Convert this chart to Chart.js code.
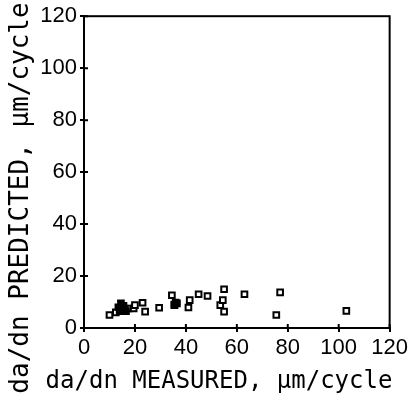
<!DOCTYPE html>
<html>
<head>
<meta charset="utf-8">
<script src="https://cdn.jsdelivr.net/npm/chart.js@4"></script>
<style>
  html, body { margin: 0; padding: 0; background: #fff; }
  #wrap { width: 411px; height: 407px; }
</style>
</head>
<body>
<div id="wrap"><canvas id="myChart" width="411" height="407"></canvas></div>
<script>
const ctx = document.getElementById("myChart").getContext("2d");

// da/dn measured vs predicted, um/cycle
const measured = [10, 12.5, 17.5, 19.5, 20, 23, 24, 29.5, 34.5, 35.5, 36.5, 41, 41.5, 45, 48.5, 53.5, 54.5, 55, 55, 63, 75.5, 77, 103];
const predicted = [5, 6, 7.5, 7.5, 8.8, 9.7, 6.3, 7.8, 12.6, 8.8, 9.5, 7.9, 10.7, 13, 12.3, 8.8, 10.7, 6.3, 14.9, 13, 5, 13.7, 6.6];
// overlapping points that print as a solid blob
const clusterX = [13.5, 14.5, 15, 15.5, 16, 14, 16.5, 35.5, 36];
const clusterY = [8, 9.5, 7, 8.5, 7.5, 6.5, 6.5, 9, 9.8];
const xTicks = [0, 20, 40, 60, 80, 100, 120];
const yTicks = [0, 20, 40, 60, 80, 100, 120];
const xTitle = "da/dn MEASURED, \u00b5m/cycle";
const yTitle = "da/dn PREDICTED, \u00b5m/cycle";

const points = measured.map((x, i) => ({ x: x, y: predicted[i] }));
const cluster = clusterX.map((x, i) => ({ x: x, y: clusterY[i] }));

const fontTick = { family: "'Liberation Sans', Arial, sans-serif", size: 22 };

// frame, inner tick marks and axis titles
const framePlugin = {
  id: "frame",
  afterDraw(chart) {
    const a = chart.chartArea;
    const c = chart.ctx;
    c.save();
    c.strokeStyle = "#000";
    c.lineWidth = 2;
    c.strokeRect(a.left, a.top, a.right - a.left, a.bottom - a.top);
    c.beginPath();
    xTicks.forEach((v) => {
      const px = chart.scales.x.getPixelForValue(v);
      c.moveTo(px, a.bottom);
      c.lineTo(px, a.bottom - 4);
    });
    yTicks.forEach((v) => {
      const py = chart.scales.y.getPixelForValue(v);
      c.moveTo(a.left, py);
      c.lineTo(a.left + 4, py);
    });
    c.stroke();

    c.fillStyle = "#000";
    c.textAlign = "center";
    c.textBaseline = "middle";
    c.font = "24px 'DejaVu Sans Mono'";
    c.fillText(xTitle, 219, 382);
    c.translate(21, 198);
    c.rotate(-Math.PI / 2);
    c.font = "26px 'DejaVu Sans Mono'";
    c.fillText(yTitle, 0, 0);
    c.restore();
  },
};

const config = {
  type: "scatter",
  data: {
    datasets: [
      {
        data: cluster,
        pointStyle: "rect",
        pointRadius: 4,
        borderColor: "#000",
        borderWidth: 2,
        backgroundColor: "#000",
      },
      {
        data: points,
        pointStyle: "rect",
        pointRadius: 4,
        borderColor: "#000",
        borderWidth: 2,
        backgroundColor: "#fff",
      },
      {
        data: points,
        pointStyle: "circle",
        pointRadius: 1,
        borderWidth: 0,
        backgroundColor: "#000",
      },
    ],
  },
  options: {
    responsive: false,
    animation: false,
    layout: { padding: { top: 15, right: 13, left: 0, bottom: 0 } },
    plugins: { legend: { display: false }, tooltip: { enabled: false } },
    scales: {
      x: {
        type: "linear",
        min: 0,
        max: 120,
        afterBuildTicks: (scale) => { scale.ticks = xTicks.map((v) => ({ value: v })); },
        afterFit: (scale) => { scale.height = 79; },
        grid: { drawOnChartArea: false, color: "#000", tickLength: 4, lineWidth: 2 },
        border: { color: "#000", width: 2 },
        ticks: { color: "#000", font: fontTick, padding: 3, maxRotation: 0 },
      },
      y: {
        type: "linear",
        min: 0,
        max: 120,
        afterBuildTicks: (scale) => { scale.ticks = yTicks.map((v) => ({ value: v })); },
        afterFit: (scale) => { scale.width = 84; },
        grid: { drawOnChartArea: false, color: "#000", tickLength: 4, lineWidth: 2 },
        border: { color: "#000", width: 2 },
        ticks: { color: "#000", font: fontTick, padding: 3 },
      },
    },
  },
  plugins: [framePlugin],
};

const myChart = new Chart(ctx, config);
</script>
</body>
</html>
